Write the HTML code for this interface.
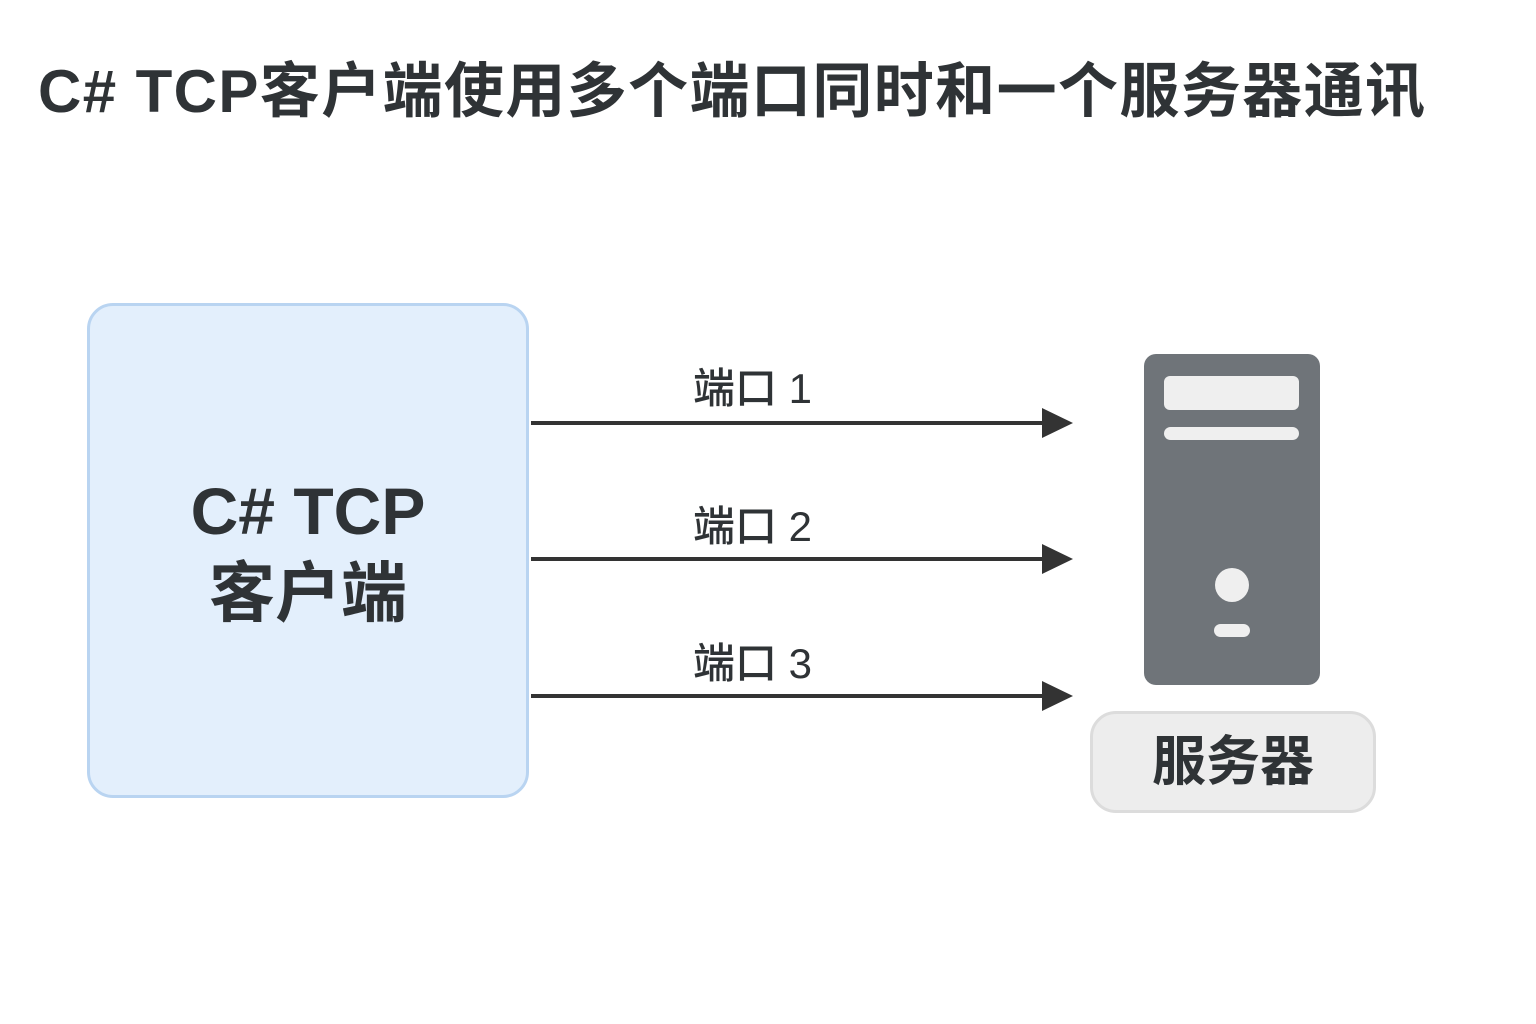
<!DOCTYPE html>
<html><head><meta charset="utf-8"><style>
body{margin:0;width:1536px;height:1024px;background:#fff;position:relative;overflow:hidden;font-family:"Liberation Sans","Noto Sans CJK SC",sans-serif;color:#2f3336}
.abs{position:absolute}
</style></head><body>
<div class="abs" style="left:38px;top:52px;font-size:60px;font-weight:bold;white-space:nowrap;letter-spacing:1.4px;line-height:80px">C# TCP客户端使用多个端口同时和一个服务器通讯</div>
<div class="abs" style="left:87px;top:303px;width:436px;height:489px;background:#e3effc;border:3px solid #b9d4f1;border-radius:26px"></div>
<div class="abs" style="left:87px;top:470px;width:442px;text-align:center;font-size:66px;font-weight:bold;line-height:82px">C# TCP<br>客户端</div>
<svg class="abs" style="left:0;top:0" width="1536" height="1024">
<g stroke="#333" stroke-width="4"><line x1="531" y1="423" x2="1048" y2="423"/><line x1="531" y1="559" x2="1048" y2="559"/><line x1="531" y1="696" x2="1048" y2="696"/></g>
<g fill="#333"><polygon points="1042,408 1073,423 1042,438"/><polygon points="1042,544 1073,559 1042,574"/><polygon points="1042,681 1073,696 1042,711"/></g>
<rect x="1144" y="354" width="176" height="331" rx="12" fill="#6f7479"/>
<rect x="1164" y="376" width="135" height="34" rx="6" fill="#efefef"/>
<rect x="1164" y="427" width="135" height="13" rx="6.5" fill="#efefef"/>
<circle cx="1232" cy="585" r="17" fill="#efefef"/>
<rect x="1214" y="624" width="36" height="13" rx="6.5" fill="#efefef"/>
</svg>
<div class="abs" style="left:693px;top:362px;font-size:42px;line-height:54px;white-space:nowrap;font-weight:500">端口 1</div>
<div class="abs" style="left:693px;top:500px;font-size:42px;line-height:54px;white-space:nowrap;font-weight:500">端口 2</div>
<div class="abs" style="left:693px;top:637px;font-size:42px;line-height:54px;white-space:nowrap;font-weight:500">端口 3</div>
<div class="abs" style="left:1090px;top:711px;width:280px;height:96px;background:#ededed;border:3px solid #dcdcdc;border-radius:26px;text-align:center;font-size:54px;font-weight:bold;line-height:96px">服务器</div>
</body></html>
